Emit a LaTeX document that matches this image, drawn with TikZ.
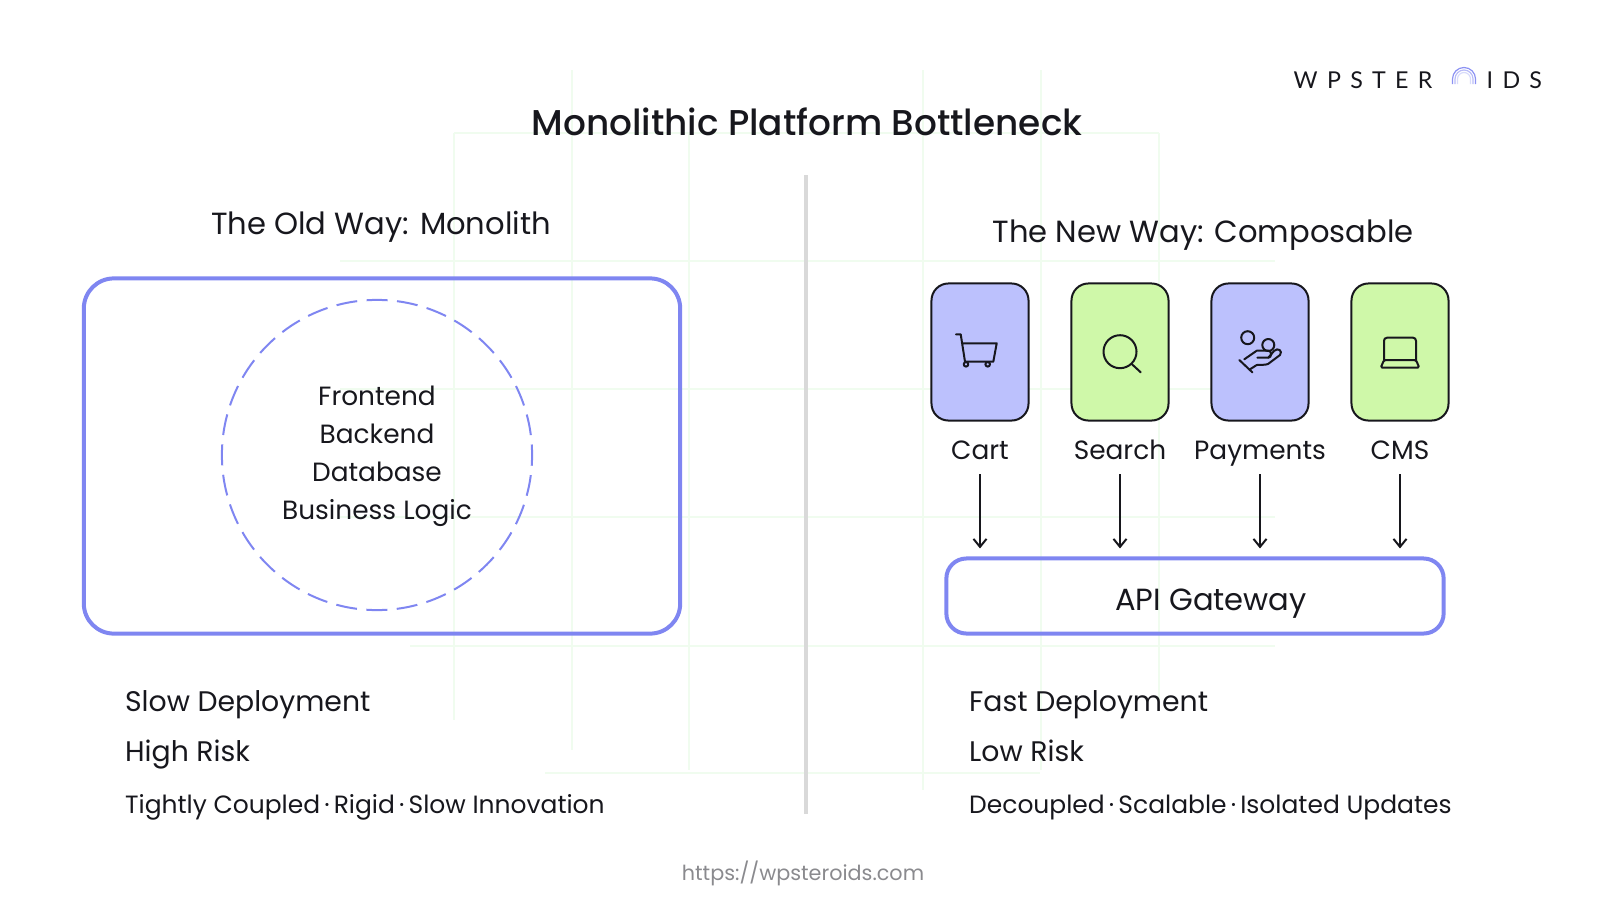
\documentclass[tikz,border=0pt]{standalone}
\usepackage{fontspec}
\setmainfont{Poppins}
\newfontfamily\titlefont{Poppins Medium}
\newfontfamily\logofont[LetterSpace=40]{Lato}
\usetikzlibrary{arrows.meta}
\definecolor{inkdark}{HTML}{17171D}
\definecolor{edgeblue}{HTML}{7F86F1}
\definecolor{fillblue}{HTML}{BCC1FD}
\definecolor{fillgreen}{HTML}{CFF8A9}
\definecolor{gridgreen}{HTML}{F0FCEF}
\definecolor{urlgray}{HTML}{8A8A8E}
\tikzset{
  plaintext/.style={text=inkdark,inner sep=0pt,text height=0.95em,text depth=0.25em},
  titletext/.style={plaintext,font=\titlefont\fontsize{10.2pt}{12pt}\selectfont},
  headtext/.style={plaintext,font=\fontsize{8.7pt}{11pt}\selectfont},
  bodytext/.style={plaintext,font=\fontsize{7.5pt}{10pt}\selectfont},
  smalltext/.style={plaintext,anchor=west,font=\fontsize{7.1pt}{10pt}\selectfont},
  statustext/.style={plaintext,anchor=west,font=\fontsize{8.05pt}{10pt}\selectfont},
  logotext/.style={plaintext,anchor=west,font=\logofont\fontsize{6.6pt}{8pt}\selectfont},
  servicebox/.style={draw=inkdark,line width=0.02cm,rounded corners=0.17cm,minimum width=0.97cm,minimum height=1.37cm,inner sep=0pt},
  icon/.style={draw=inkdark,line width=0.02cm,line cap=round,line join=round},
  feed/.style={draw=inkdark,line width=0.02cm,-{Straight Barb[length=0.08cm,width=0.13cm]},shorten <=0.24cm,shorten >=0.08cm},
  gridline/.style={draw=gridgreen,line width=0.015cm},
}
\begin{document}
\begin{tikzpicture}[x=0.01cm,y=-0.01cm]
\useasboundingbox (0,0) rectangle (1612,912);
% faint grid behind everything
\draw[gridline] (454,133) -- (454,720);
\draw[gridline] (572,70) -- (572,750);
\draw[gridline] (689,133) -- (689,770);
\draw[gridline] (923,70) -- (923,790);
\draw[gridline] (1041,70) -- (1041,770);
\draw[gridline] (1159,133) -- (1159,700);
\draw[gridline] (454,133) -- (1159,133);
\draw[gridline] (340,261) -- (1275,261);
\draw[gridline] (340,389) -- (1275,389);
\draw[gridline] (340,517) -- (1275,517);
\draw[gridline] (410,646) -- (1275,646);
\draw[gridline] (545,773) -- (1040,773);

%------------------------------------------------
\node[titletext] (title) at (807,123) {Monolithic Platform Bottleneck};
\node[logotext] (logoleft) at (1293,76) {WPSTER};
\node[logotext] (logoright) at (1486,76) {IDS};
\draw[edgeblue!90,line width=0.012cm] (1452.5,84) -- (1452.5,79) arc (180:360:11.5) -- (1475.5,84);
\draw[edgeblue!55,line width=0.012cm] (1455,84) -- (1455,79) arc (180:360:9) -- (1473,84);
\draw[edgeblue!30,line width=0.012cm] (1457.5,84) -- (1457.5,79) arc (180:360:6.5) -- (1470.5,84);
\coordinate (dividertop) at (806,175);
\coordinate (dividerbottom) at (806,814);
\draw[draw=black!15,line width=0.04cm] (dividertop) -- (dividerbottom);

%------------------------------------------------
\node[headtext] (oldhead) at (381,222) {The Old Way: Monolith};
\node[draw=edgeblue,line width=0.04cm,rounded corners=0.3cm,minimum width=5.96cm,minimum height=3.55cm,inner sep=0pt] (monolith) at (382,456) {};
\node[circle,draw=edgeblue,line width=0.02cm,dash pattern=on 0.21cm off 0.0943cm,dash phase=0.105cm,minimum size=3.1cm,inner sep=0pt] (core) at (377,455) {};
\node[bodytext] (frontend) at (377,393) {Frontend};
\node[bodytext] (backend) at (377,431) {Backend};
\node[bodytext] (database) at (377,469) {Database};
\node[bodytext] (logic) at (377,507) {Business Logic};
\node[statustext] (slow) at (124.4,699) {Slow Deployment};
\node[statustext] (high) at (124.4,749.5) {High Risk};
\node[smalltext] (tight) at (124.4,801) {Tightly Coupled\,·\,Rigid\,·\,Slow Innovation};

%------------------------------------------------
\node[headtext] (newhead) at (1203,230) {The New Way: Composable};
\node[servicebox,fill=fillblue] (cartbox) at (980,352) {};
\node[servicebox,fill=fillgreen] (searchbox) at (1120,352) {};
\node[servicebox,fill=fillblue] (paybox) at (1260,352) {};
\node[servicebox,fill=fillgreen] (cmsbox) at (1400,352) {};
\node[bodytext] (cartlabel) at (980,447) {Cart};
\node[bodytext] (searchlabel) at (1120,447) {Search};
\node[bodytext] (paylabel) at (1260,447) {Payments};
\node[bodytext] (cmslabel) at (1400,447) {CMS};
\node[draw=edgeblue,line width=0.04cm,rounded corners=0.2cm,minimum width=4.97cm,minimum height=0.75cm,inner sep=0pt] (gateway) at (1195,596) {};
\node[headtext] (gatewaylabel) at (1211,598) {API Gateway};
\draw[feed,shorten <=0.27cm] (cartlabel.center) -- (cartlabel.center |- gateway.north);
\draw[feed,shorten <=0.27cm] (searchlabel.center) -- (searchlabel.center |- gateway.north);
\draw[feed,shorten <=0.27cm] (paylabel.center) -- (paylabel.center |- gateway.north);
\draw[feed,shorten <=0.27cm] (cmslabel.center) -- (cmslabel.center |- gateway.north);
% cart
\draw[icon] (956,334.3) -- (960.7,334.3) -- (965,361.7) -- (993.3,361.7) -- (996.7,343.3) -- (962.3,343.3);
\draw[icon] (966,364.3) circle (2.3);
\draw[icon] (987.7,364.3) circle (2.3);
% search
\draw[icon] (1120,351.7) circle (16.5);
\draw[icon] (1131.7,364) -- (1140.7,372.3);
% payments
\draw[icon] (1247.7,337.7) circle (6.5);
\draw[icon] (1268.3,345) circle (6);
\draw[icon] (1239.3,360) -- (1252.3,372.3);
\draw[icon] (1244.3,359.3) -- (1256.7,350.7) -- (1268.3,350.7) .. controls (1272,350.7) and (1272,357.7) .. (1268.3,357.7) -- (1257.3,357.7);
\draw[icon] (1268.3,357.7) -- (1274,351) .. controls (1278,347) and (1283,351) .. (1280,355) -- (1268,364) .. controls (1266,365) and (1258,365) .. (1256.7,365) -- (1250,369.3);
% laptop
\draw[icon,rounded corners=0.03cm] (1384,360) -- (1384,337.7) -- (1416,337.7) -- (1416,360);
\draw[icon,rounded corners=0.015cm] (1384,360) -- (1416,360) -- (1419.3,367.7) -- (1380.7,367.7) -- cycle;
\node[statustext] (fast) at (968.5,699) {Fast Deployment};
\node[statustext] (low) at (968.5,749.5) {Low Risk};
\node[smalltext] (decoupled) at (968.5,801) {Decoupled\,·\,Scalable\,·\,Isolated Updates};

%------------------------------------------------
\node[inner sep=0pt,text=urlgray,text height=0.95em,text depth=0.25em,font=\fontsize{5.9pt}{9pt}\selectfont] (url) at (803,868) {https://wpsteroids.com};
\end{tikzpicture}
\end{document}
